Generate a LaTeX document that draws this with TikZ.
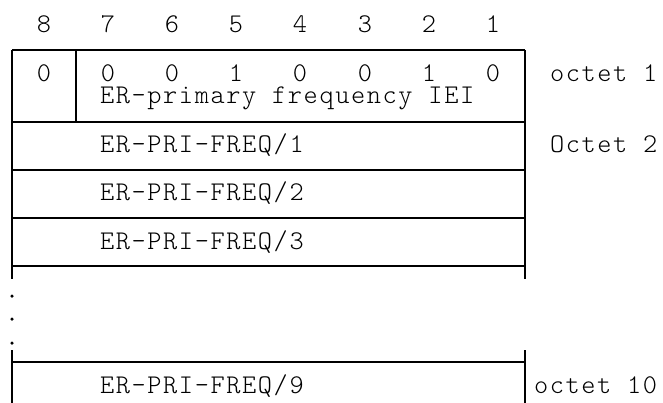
\documentclass[tikz,border=0pt]{standalone}
\usepackage{fontspec}
\setmonofont{lmmonolt10-regular.otf}[LetterSpace=6]
\begin{document}
\begin{tikzpicture}[x=1pt,y=-1pt,
  every node/.style={inner sep=0pt,outer sep=0pt,font=\ttfamily\fontsize{27}{30}\selectfont},
  lbl/.style={anchor=base west},
  dig/.style={anchor=base},
  rule/.style={line width=1.3pt},
  dotm/.style={fill=black,circle,minimum size=3.5pt,inner sep=0pt}]
\useasboundingbox (0,0) rectangle (663,403);
% header bit numbers
\foreach \i/\x in {8/44,7/108,6/172,5/236,4/300,3/365,2/429,1/493}
  \node[dig] (h\i) at (\x,33) {\i};
% table frame
\draw[rule] (12,50) -- (525,50);
\draw[rule] (12,122) -- (525,122);
\draw[rule] (12,170) -- (525,170);
\draw[rule] (12,218) -- (525,218);
\draw[rule] (12,266) -- (525,266);
\draw[rule] (12,50) -- (12,279);
\draw[rule] (525,50) -- (525,279);
\draw[rule] (76,50) -- (76,122);
% bottom part
\draw[rule] (12,362) -- (525,362);
\draw[rule] (12,350) -- (12,403);
\draw[rule] (525,350) -- (525,403);
% octet 1 bits
\node[dig] (b8) at (44,82) {0};
\foreach \i/\x/\v in {7/108/0,6/172/0,5/236/1,4/300/0,3/365/0,2/429/1,1/493/0}
  \node[dig] (b\i) at (\x,82) {\v};
\node[lbl] (iei) at (100,104) {ER-primary frequency IEI};
\node[lbl] (f1) at (100,153) {ER-PRI-FREQ/1};
\node[lbl] (f2) at (100,201) {ER-PRI-FREQ/2};
\node[lbl] (f3) at (100,249) {ER-PRI-FREQ/3};
\node[lbl] (f9) at (100,393) {ER-PRI-FREQ/9};
\node[lbl] (o1) at (550,82) {octet 1};
\node[lbl] (o2) at (550,153) {Octet 2};
\node[lbl] (o10) at (534,393) {octet 10};
% continuation dots
\node[dotm] (d1) at (12,296) {};
\node[dotm] (d2) at (12,319) {};
\node[dotm] (d3) at (12,343) {};
\end{tikzpicture}
\end{document}
